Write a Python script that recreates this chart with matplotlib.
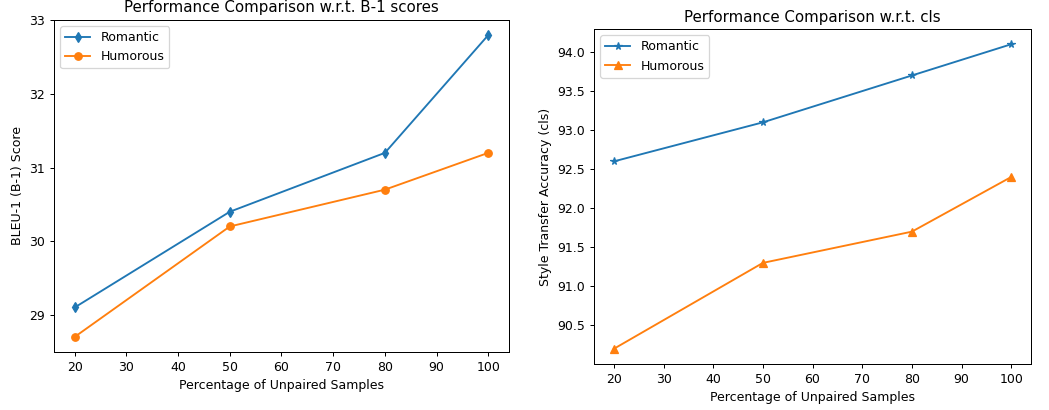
import matplotlib.pyplot as plt

pct = [20, 50, 80, 100]

b1_romantic = [29.1, 30.4, 31.2, 32.8]
b1_humorous = [28.7, 30.2, 30.7, 31.2]

cls_romantic = [92.6, 93.1, 93.7, 94.1]
cls_humorous = [90.2, 91.3, 91.7, 92.4]

DPI = 90


def main():
    # reference looks like a 0.9x render, so draw at 90 dpi
    fig = plt.figure(figsize=(1049 / DPI, 410 / DPI), dpi=DPI)

    ax1 = fig.add_axes([0.0515, 0.1415, 0.4337, 0.8098])
    ax1.plot(pct, b1_romantic, marker="d", label="Romantic")
    ax1.plot(pct, b1_humorous, marker="o", label="Humorous")
    ax1.set_title("Performance Comparison w.r.t. B-1 scores")
    ax1.set_xlabel("Percentage of Unpaired Samples")
    ax1.set_ylabel("BLEU-1 (B-1) Score")
    ax1.legend(loc="upper left")

    ax2 = fig.add_axes([0.5663, 0.1122, 0.4166, 0.817])
    ax2.plot(pct, cls_romantic, marker="*", label="Romantic")
    ax2.plot(pct, cls_humorous, marker="^", label="Humorous")
    ax2.set_title("Performance Comparison w.r.t. cls")
    ax2.set_xlabel("Percentage of Unpaired Samples")
    ax2.set_ylabel("Style Transfer Accuracy (cls)")
    ax2.legend(loc="upper left")

    fig.savefig("out.png", dpi=DPI)
    plt.close(fig)


if __name__ == "__main__":
    main()
